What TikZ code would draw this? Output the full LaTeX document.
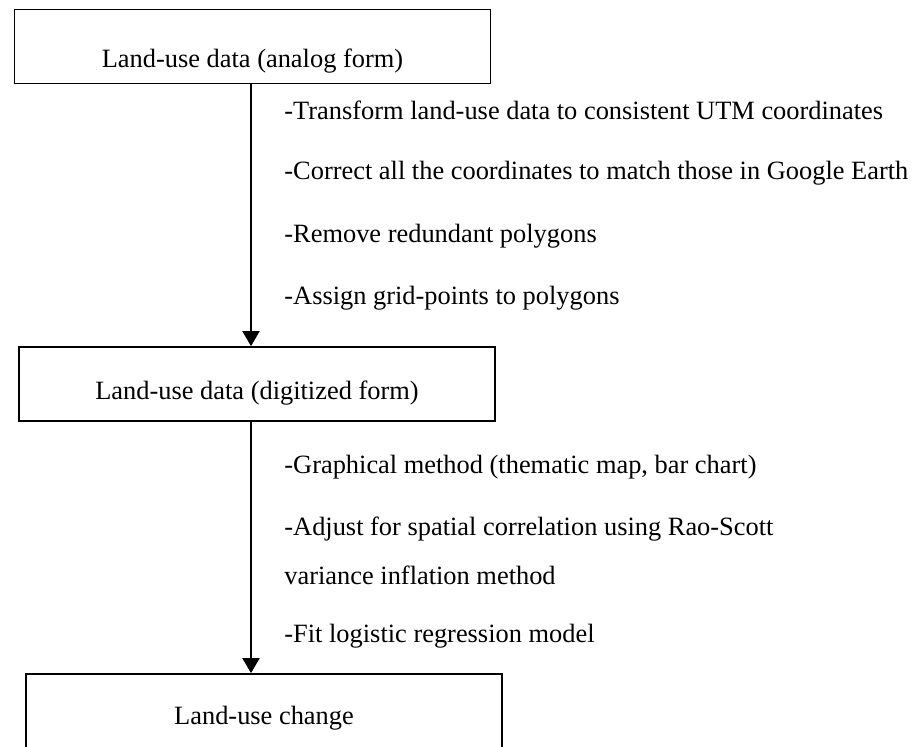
\documentclass[tikz,border=0pt]{standalone}
\usepackage{fontspec}
\setmainfont{Liberation Serif}
\usetikzlibrary{arrows.meta}

\begin{document}
\begin{tikzpicture}[x = 0.5pt, y = -0.5pt,
    box/.style = {shape = rectangle, draw, line width = 0.9pt, inner sep = 0pt,
                  minimum width = 238pt, minimum height = 37pt},
    txt/.style = {inner sep = 0pt, font = \fontsize{13.2}{15.8}\selectfont},
    note/.style = {txt, anchor = west},
    flow/.style = {line width = 1pt, -{Triangle[length = 7.5pt, width = 8.5pt]}}]
    \useasboundingbox (0,0) rectangle (920,746);
    \clip (0,0) rectangle (920,746);

    \node [box] (a) at (252.5,46.5) {};
    \node [txt] (A) at (252.5,61) {Land-use data (analog form)};
    \node [box] (d) at (257,384) {};
    \node [txt] (D) at (257,393) {Land-use data (digitized form)};
    \node [box] (c) at (264,711) {};
    \node [txt] (C) at (264,718) {Land-use change};

    \node [note] (t1) at (284,110) {-Transform land-use data to consistent UTM coordinates};
    \node [note] (t2) at (284,173) {-Correct all the coordinates to match those in Google Earth};
    \node [note] (t3) at (284,236) {-Remove redundant polygons};
    \node [note] (t4) at (284,298) {-Assign grid-points to polygons};

    \node [note] (s1) at (284,467) {-Graphical method (thematic map, bar chart)};
    \node [note] (s2) at (284,529) {-Adjust for spatial correlation using Rao-Scott};
    \node [note] (s3) at (284,575) {variance inflation method};
    \node [note] (s4) at (284,636) {-Fit logistic regression model};

    \coordinate (axis) at (251,0);
    \draw [flow] (a.south -| axis) to (d.north -| axis);
    \draw [flow] (d.south -| axis) to (c.north -| axis);
\end{tikzpicture}
\end{document}
